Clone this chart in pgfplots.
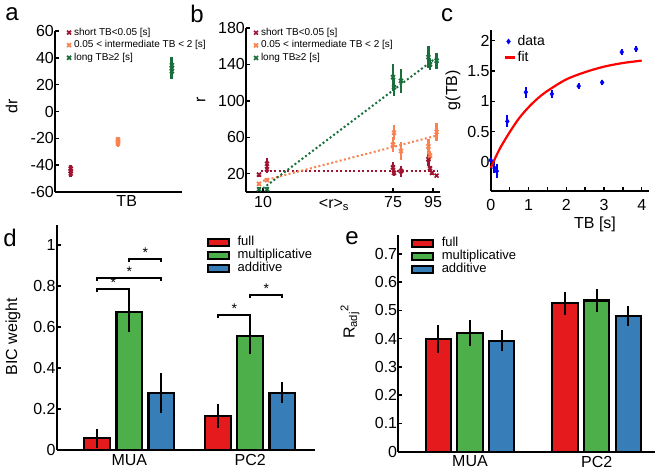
\documentclass[border=0pt]{standalone}
\usepackage{fontspec}
\setmainfont{Liberation Sans}
\usepackage{pgfplots}
\pgfplotsset{compat=1.18}

\definecolor{cshort}{RGB}{160,20,50}
\definecolor{cmid}{RGB}{250,130,80}
\definecolor{clong}{RGB}{25,110,60}
\definecolor{bred}{RGB}{228,26,28}
\definecolor{bgreen}{RGB}{77,175,74}
\definecolor{bblue}{RGB}{55,126,184}

\pgfplotsset{
  panel/.style={
    scale only axis, anchor=south west,
    axis lines=left,
    axis line style={-, line width=2pt},
    tick align=inside, major tick length=4pt,
    tick style={line width=1.4pt, black},
    font=\fontsize{16}{16}\selectfont,
    /pgf/number format/assume math mode=true,
    yticklabel style={inner sep=1pt},
    xticklabel style={inner sep=0pt, yshift=-4pt},
    clip=false,
  },
  tbmark/.style={only marks, mark=x, mark size=2.8pt, mark options={line width=1.7pt},
    legend image code/.code={\draw[mark repeat=2,mark phase=2,##1] plot coordinates {(0pt,0pt) (3pt,0pt) (6pt,0pt)};}},
  tberr/.style={error bars/y dir=both, error bars/y explicit,
    error bars/error bar style={line width=2.8pt, #1}, error bars/error mark=none},
  smalllegend/.style={legend style={at={#1}, anchor=north west, draw=none, fill=none,
    font=\fontsize{10}{10}\selectfont, row sep=2.6pt, column sep=2.5pt,
    nodes={inner sep=0.5pt, text height=7pt, text depth=2pt}}, legend cell align=left},
  bar/.style={ybar, bar shift=0pt, fill=#1, draw=black, line width=2.2pt,
    legend image code/.code={\draw[##1, line width=2pt] (0pt,-3.6pt) rectangle (21pt,3.6pt);},
    error bars/y dir=both, error bars/y explicit,
    error bars/error bar style={line width=2pt, black},
    error bars/error mark options={line width=2pt, mark size=3pt, black}},
  barlegend/.style={legend style={at={#1}, anchor=north west, draw=none, fill=none,
    font=\fontsize{13}{13}\selectfont, row sep=1pt, column sep=7pt,
    nodes={inner sep=0.5pt, text height=8.5pt, text depth=2.5pt}}, legend cell align=left},
  sig/.style={black, line width=1.9pt, forget plot},
  dotleg/.style={legend image code/.code={\draw[blue] plot[mark=diamond*, mark size=2.6pt] coordinates {(4pt,0pt)};}},
  lineleg/.style={legend image code/.code={\draw[red, line width=2.2pt] (0pt,0pt) -- (10pt,0pt);}},
}

\begin{document}
\begin{tikzpicture}
\useasboundingbox (0pt,0pt) rectangle (660pt,-472pt);

% ---------- a ----------
\begin{axis}[panel, at={(55pt,-192pt)}, width=127pt, height=161pt,
  xmin=0, xmax=1, ymin=-60, ymax=60, xtick=\empty,
  ytick={-60,-40,-20,0,20,40,60},
  smalllegend={(0.07,1.035)}]
\addplot[tbmark, cshort, tberr=cshort] coordinates {(0.124,-44.4) +- (0,4.4)};
\addplot[tbmark, cmid, tberr=cmid] coordinates {(0.496,-22.5) +- (0,3.8)};
\addplot[tbmark, clong, tberr=clong] coordinates {(0.92,32.3) +- (0,8.3)};
\addplot[tbmark, cshort, forget plot] coordinates {(0.124,-42.6) (0.124,-46.2)};
\addplot[tbmark, cmid, forget plot] coordinates {(0.496,-21) (0.496,-24)};
\addplot[tbmark, clong, forget plot] coordinates {(0.92,30) (0.92,34.5)};
\legend{short TB<0.05 [s], 0.05 < intermediate TB < 2 [s], long TB≥2 [s]}
\end{axis}

% ---------- b ----------
\begin{axis}[panel, at={(246pt,-192pt)}, width=194pt, height=164pt,
  xmin=1.5, xmax=98.5, ymin=0, ymax=180,
  xtick={10,75,95}, ytick={20,60,100,140,180},
  smalllegend={(0.025,1.015)}]
\addplot[cshort, line width=2pt, dash pattern=on 2pt off 2.4pt, forget plot]
  coordinates {(9,23.4) (97.5,23.4)};
\addplot[cmid, line width=2pt, dash pattern=on 2pt off 2.4pt, forget plot]
  coordinates {(10,12.4) (97,62)};
\addplot[clong, line width=2pt, dash pattern=on 2pt off 2.4pt, forget plot]
  coordinates {(10,4) (97,148)};
\addplot[tbmark, cshort, tberr=cshort] table[x=x, y=y, y error=e] {
x y e
8 19 2
12 25 4
12 31 6
75 27 6
75.5 21 3
79 23 6
92.7 36 8
93.5 26 3
94.5 21 2
96.8 18 2
};
\addplot[tbmark, cmid, tberr=cmid] table[x=x, y=y, y error=e] {
x y e
8 9 2
12 13 2
75 52 8
75.5 65 8
79 45 10
92.7 50 8
93.5 40 5
96.8 66 10
};
\addplot[tbmark, clong, tberr=clong] table[x=x, y=y, y error=e] {
x y e
8 3 2
12 3 2
75 126 15
75.5 115 10
79 122 13
92.7 148 12
93.5 140 6
96.8 144 9
};
\legend{short TB<0.05 [s], 0.05 < intermediate TB < 2 [s], long TB≥2 [s]}
\end{axis}

% ---------- c ----------
\begin{axis}[panel, at={(490.7pt,-191.2pt)}, width=158.6pt, height=161pt,
  xmin=0, xmax=4.2, ymin=-0.48, ymax=2.17,
  xtick={0,0.5,1,1.5,2,2.5,3,3.5,4}, xticklabels={0,,1,,2,,3,,4},
  ytick={0,0.5,1,1.5,2},
  xticklabel style={yshift=-4pt},
  legend style={at={(0.06,0.99)}, anchor=north west, draw=none, fill=none,
    font=\fontsize{14}{14}\selectfont, row sep=1pt, column sep=1pt,
    nodes={inner sep=1pt, text height=10pt, text depth=3pt}}, legend cell align=left]
\addplot[blue, only marks, mark=diamond*, mark size=2.6pt, dotleg,
  error bars/y dir=both, error bars/y explicit,
  error bars/error bar style={line width=2pt, blue}, error bars/error mark=none]
  table[x=x, y=y, y error=e] {
x y e
0 0.03 0.04
0.1 -0.1 0.08
0.16 -0.15 0.12
0.44 0.67 0.1
0.93 1.15 0.09
1.62 1.12 0.06
2.33 1.25 0.05
2.95 1.31 0.04
3.47 1.81 0.05
3.85 1.86 0.05
};
\addplot[red, line width=2.2pt, smooth, lineleg] coordinates {
(0,-0.1) (0.1,0.04) (0.25,0.23) (0.5,0.49) (0.75,0.72) (1,0.9) (1.25,1.05)
(1.5,1.17) (2,1.36) (2.5,1.48) (3,1.57) (3.5,1.63) (4,1.67)};
\legend{data, fit}
\end{axis}

% ---------- d ----------
\begin{axis}[panel, at={(56.7pt,-450pt)}, width=258.3pt, height=225.5pt,
  xmin=0.4, xmax=2.535, ymin=0, ymax=1.1,
  xtick={1,2}, xticklabels={MUA,PC2}, xtick style={draw=none},
  ytick={0,0.2,0.4,0.6,0.8,1},
  barlegend={(0.57,0.955)}]
\addplot[bar=bred, bar width=0.213] coordinates {(0.735,0.057) +- (0,0.032) (1.735,0.167) +- (0,0.045)};
\addplot[bar=bgreen, bar width=0.213] coordinates {(1,0.672) +- (0,0.084) (2,0.558) +- (0,0.074)};
\addplot[bar=bblue, bar width=0.213] coordinates {(1.265,0.277) +- (0,0.082) (2.265,0.28) +- (0,0.035)};
\addplot[sig] coordinates {(0.735,0.769) (0.735,0.784) (1,0.784) (1,0.769)};
\addplot[sig] coordinates {(0.735,0.825) (0.735,0.84) (1.265,0.84) (1.265,0.825)};
\addplot[sig] coordinates {(1,0.915) (1,0.93) (1.265,0.93) (1.265,0.915)};
\addplot[sig] coordinates {(1.735,0.644) (1.735,0.659) (2,0.659) (2,0.644)};
\addplot[sig] coordinates {(2,0.741) (2,0.756) (2.265,0.756) (2.265,0.741)};
\node[font=\fontsize{14}{14}\selectfont] at (axis cs:0.8675,0.815) {*};
\node[font=\fontsize{14}{14}\selectfont] at (axis cs:1,0.871) {*};
\node[font=\fontsize{14}{14}\selectfont] at (axis cs:1.1325,0.961) {*};
\node[font=\fontsize{14}{14}\selectfont] at (axis cs:1.8675,0.69) {*};
\node[font=\fontsize{14}{14}\selectfont] at (axis cs:2.1325,0.787) {*};
\legend{full, multiplicative, additive}
\end{axis}

% ---------- e ----------
\begin{axis}[panel, at={(398.3pt,-451.7pt)}, width=256.7pt, height=216.5pt,
  xmin=0.434, xmax=2.46, ymin=0, ymax=0.766,
  xtick={1,2}, xticklabels={MUA,PC2}, xtick style={draw=none},
  ytick={0,0.1,0.2,0.3,0.4,0.5,0.6,0.7},
  barlegend={(0.038,1.0)}]
\addplot[bar=bred, bar width=0.2] coordinates {(0.75,0.399) +- (0,0.04) (1.75,0.525) +- (0,0.03)};
\addplot[bar=bgreen, bar width=0.2] coordinates {(1,0.419) +- (0,0.036) (2,0.535) +- (0,0.03)};
\addplot[bar=bblue, bar width=0.2] coordinates {(1.25,0.393) +- (0,0.027) (2.25,0.48) +- (0,0.025)};
\legend{full, multiplicative, additive}
\end{axis}

% ---------- labels ----------
\begin{scope}[every node/.style={font=\fontsize{16}{16}\selectfont}]
\node[rotate=90] at (11.7pt,-106.7pt) {dr};
\node at (126.7pt,-201pt) {TB};
\node[rotate=90] at (201pt,-100pt) {r};
\node at (334pt,-205pt) {<r>\textsubscript{s}};
\node[rotate=90] at (453pt,-90pt) {g(TB)};
\node at (595pt,-224pt) {TB [s]};
\node[rotate=90] at (13pt,-336.7pt) {BIC weight};
\node[rotate=90] at (350pt,-322pt) {R\textsubscript{adj}\textsuperscript{2}};
\end{scope}
\begin{scope}[every node/.style={font=\fontsize{24}{24}\selectfont}]
\node at (12pt,-14pt) {a};
\node at (197pt,-14pt) {b};
\node at (447pt,-15pt) {c};
\node at (10pt,-238pt) {d};
\node at (352pt,-238pt) {e};
\end{scope}
\end{tikzpicture}
\end{document}
